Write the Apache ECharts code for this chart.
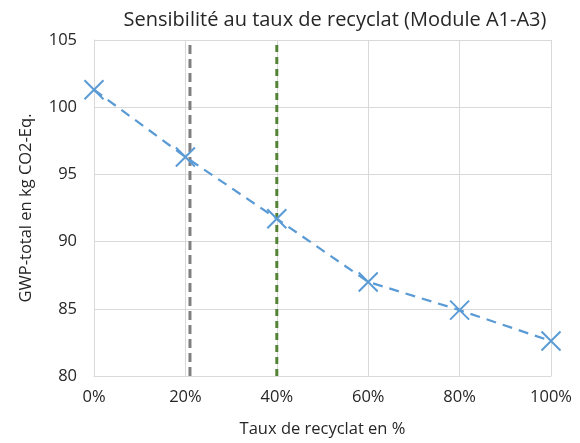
<!DOCTYPE html>
<html>
<head>
<meta charset="utf-8">
<script src="https://cdn.jsdelivr.net/npm/echarts@6/dist/echarts.min.js"></script>
<style>html,body{margin:0;padding:0;background:#fff}#c{width:580px;height:443px}</style>
</head>
<body>
<div id="c"></div>
<script>
const titleText = "Sensibilité au taux de recyclat (Module A1-A3)";
const xAxisName = "Taux de recyclat en %";
const yAxisName = "GWP-total en kg CO2-Eq.";
const recycleRates = [0, 20, 40, 60, 80, 100];
const gwpValues = [101.3, 96.3, 91.7, 87.0, 84.9, 82.6];
const grayMarkerX = 21;
const greenMarkerX = 40;
const yMin = 80, yMax = 105;

const font = "'Open Sans', 'Liberation Sans', sans-serif";
const chart = echarts.init(document.getElementById('c'));
chart.setOption({
  animation: false,
  backgroundColor: '#fff',
  title: {
    text: titleText, left: 330, top: 5, textAlign: 'center',
    textStyle: { fontFamily: font, fontSize: 20, fontWeight: 'normal', color: '#262626' }
  },
  grid: { left: 94, right: 29, top: 40, bottom: 67 },
  xAxis: {
    type: 'value', min: 0, max: 100, interval: 20,
    name: xAxisName, nameLocation: 'middle', nameGap: 45,
    nameTextStyle: { fontFamily: font, fontSize: 16.5, color: '#262626' },
    axisLabel: { formatter: '{value}%', fontFamily: font, fontSize: 16.5, color: '#262626', margin: 13 },
    axisLine: { show: true, lineStyle: { color: '#d9d9d9', width: 1 } },
    axisTick: { show: false },
    splitLine: { show: true, lineStyle: { color: '#d9d9d9', width: 1 } }
  },
  yAxis: {
    type: 'value', min: yMin, max: yMax, interval: 5,
    name: yAxisName, nameLocation: 'middle', nameGap: 59, nameRotate: 90,
    nameTextStyle: { fontFamily: font, fontSize: 16.5, color: '#262626' },
    axisLabel: { fontFamily: font, fontSize: 16.5, color: '#262626', margin: 17 },
    axisLine: { show: true, lineStyle: { color: '#d9d9d9', width: 1 } },
    axisTick: { show: false },
    splitLine: { show: true, lineStyle: { color: '#d9d9d9', width: 1 } }
  },
  series: [
    {
      type: 'line', silent: true, symbol: 'none',
      data: [[grayMarkerX, yMin], [grayMarkerX, yMax]],
      lineStyle: { color: '#7f7f7f', width: 3, type: [9, 5] }, z: 1
    },
    {
      type: 'line', silent: true, symbol: 'none',
      data: [[greenMarkerX, yMin], [greenMarkerX, yMax]],
      lineStyle: { color: '#548235', width: 3, type: [7, 5] }, z: 1
    },
    {
      type: 'line',
      data: recycleRates.map((x, i) => [x, gwpValues[i]]),
      symbol: 'path://M0,0L10,10M10,0L0,10', symbolSize: 19,
      itemStyle: { color: 'none', borderColor: '#5b9bd5', borderWidth: 2 },
      lineStyle: { color: '#5b9bd5', width: 2.25, type: [10, 7] }, z: 3
    }
  ]
});
</script>
</body>
</html>
